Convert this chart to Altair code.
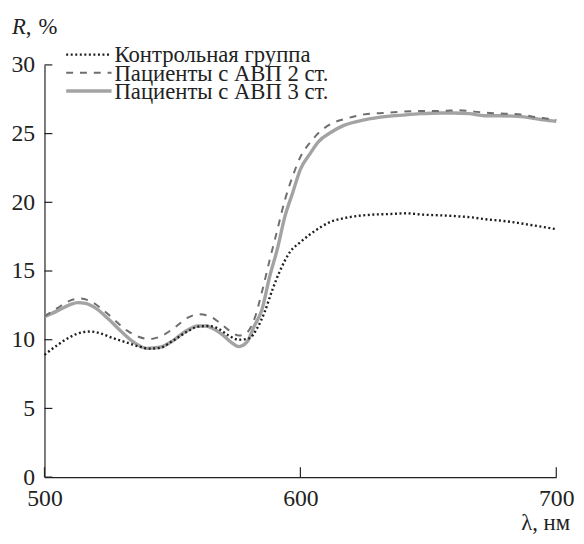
import altair as alt
import pandas as pd

# ---- data ----
series_names = ["Контрольная группа", "Пациенты с АВП 2 ст.", "Пациенты с АВП 3 ст."]

ctrl_nm = [500, 505, 510, 515, 518, 522, 527, 532, 537, 541, 545, 550, 555, 560, 564, 568, 572, 576, 580, 583,
           586, 589, 592, 596, 600, 604, 608, 612, 616, 620, 628, 635, 641, 648, 655, 660, 667, 673, 679, 685, 690, 695, 700]
ctrl_R = [8.9, 9.6, 10.2, 10.55, 10.6, 10.45, 10.1, 9.8, 9.5, 9.35, 9.4, 9.9, 10.5, 10.95, 11.0, 10.8, 10.3, 10.0, 10.1, 10.8,
          12.0, 13.6, 15.0, 16.4, 17.1, 17.7, 18.2, 18.6, 18.8, 18.95, 19.1, 19.15, 19.2, 19.1, 19.05, 19.0, 18.9, 18.75, 18.65, 18.5, 18.35, 18.2, 18.05]

st2_nm = [500, 505, 510, 514, 518, 522, 527, 532, 537, 541, 546, 551, 556, 560, 564, 568, 572, 576, 579, 582,
          585, 588, 591, 594, 597, 600, 604, 608, 613, 618, 625, 632, 640, 648, 655, 662, 668, 674, 680, 686, 692, 696, 700]
st2_R = [11.7, 12.3, 12.85, 13.0, 12.8, 12.3, 11.5, 10.7, 10.2, 10.05, 10.3, 10.9, 11.6, 11.85, 11.75, 11.3, 10.7, 10.3, 10.5, 11.5,
         13.5, 15.8, 18.0, 20.2, 21.9, 23.3, 24.4, 25.2, 25.8, 26.1, 26.4, 26.5, 26.6, 26.65, 26.65, 26.7, 26.6, 26.5, 26.45, 26.4, 26.2, 26.1, 26.0]

st3_nm = [500, 505, 510, 513, 516, 520, 525, 530, 535, 540, 545, 550, 555, 560, 563, 566, 570, 573, 576, 579,
          582, 585, 588, 591, 594, 597, 600, 604, 607, 612, 617, 625, 634, 640, 647, 654, 660, 666, 672, 678, 685, 690, 695, 700]
st3_R = [11.67, 12.1, 12.55, 12.7, 12.65, 12.3, 11.5, 10.6, 9.8, 9.37, 9.45, 9.9, 10.6, 11.0, 11.0, 10.8, 10.3, 9.8, 9.5, 9.8,
         11.0, 12.2, 14.6, 16.6, 19.0, 20.7, 22.4, 23.6, 24.4, 25.1, 25.6, 26.0, 26.25, 26.35, 26.45, 26.5, 26.5, 26.45, 26.3, 26.3, 26.25, 26.15, 26.0, 25.9]

x_ticks = [500, 600, 700]
y_ticks = [0, 5, 10, 15, 20, 25, 30]

# ---- styles ----
FONT = "Liberation Serif"
INK = "#222222"
W, H = 519, 418
styles = {
    series_names[0]: dict(color="#1e1e1e", strokeWidth=2.4, strokeDash=[2, 2.6]),
    series_names[1]: dict(color="#6e6e6e", strokeWidth=2.0, strokeDash=[7, 7]),
    series_names[2]: dict(color="#a3a3a3", strokeWidth=3.4),
}
data_by_name = {
    series_names[0]: pd.DataFrame({"nm": ctrl_nm, "R": ctrl_R}),
    series_names[1]: pd.DataFrame({"nm": st2_nm, "R": st2_R}),
    series_names[2]: pd.DataFrame({"nm": st3_nm, "R": st3_R}),
}

xscale = alt.Scale(domain=[500, 700], nice=False, zero=False)
yscale = alt.Scale(domain=[0, 30], nice=False)
xaxis = alt.Axis(values=x_ticks, ticks=False, grid=False, domainColor=INK, domainWidth=1.2,
                 labelFont=FONT, labelFontSize=24, labelColor=INK, labelPadding=10,
                 labelFlush=False, labelOverlap=False, title=None, format="d")
yaxis = alt.Axis(values=y_ticks, ticks=False, grid=False, domainColor=INK, domainWidth=1.2,
                 labelFont=FONT, labelFontSize=24, labelColor=INK, labelPadding=10,
                 labelOverlap=False, title=None, format="d")

layers = []
for name in [series_names[2], series_names[1], series_names[0]]:
    st = styles[name]
    kw = dict(color=st["color"], strokeWidth=st["strokeWidth"], interpolate="monotone")
    if "strokeDash" in st:
        kw["strokeDash"] = st["strokeDash"]
    layers.append(
        alt.Chart(data_by_name[name]).mark_line(**kw).encode(
            x=alt.X("nm:Q", scale=xscale, axis=xaxis),
            y=alt.Y("R:Q", scale=yscale, axis=yaxis),
        )
    )

# inward ticks
layers.append(
    alt.Chart(pd.DataFrame({"v": x_ticks})).mark_rule(color=INK, strokeWidth=1.2).encode(
        x=alt.X("v:Q", scale=xscale, axis=xaxis), y=alt.value(H), y2=alt.value(H - 10))
)
layers.append(
    alt.Chart(pd.DataFrame({"v": y_ticks})).mark_rule(color=INK, strokeWidth=1.2).encode(
        y=alt.Y("v:Q", scale=yscale, axis=yaxis), x=alt.value(0), x2=alt.value(8))
)

# legend (manual)
legend_rows = [-10.5, 8, 26.5]
for name, yy in zip(series_names, legend_rows):
    st = styles[name]
    kw = dict(color=st["color"], strokeWidth=st["strokeWidth"])
    if "strokeDash" in st:
        kw["strokeDash"] = st["strokeDash"]
    ldf = pd.DataFrame({"label": [name]})
    layers.append(alt.Chart(ldf).mark_rule(**kw).encode(x=alt.value(22), x2=alt.value(68), y=alt.value(yy)))
    layers.append(alt.Chart(ldf).mark_text(font=FONT, fontSize=23, color=INK, align="left", baseline="middle").encode(
        x=alt.value(71), y=alt.value(yy + 1), text="label:N"))

# axis titles
t = pd.DataFrame({"t": ["R", ",", "%", "λ, нм"]})
layers.append(alt.Chart(t).transform_filter(alt.datum.t == "R").mark_text(
    font=FONT, fontSize=23, fontStyle="italic", color=INK, align="left", baseline="alphabetic").encode(
    x=alt.value(-33), y=alt.value(-31), text="t:N"))
layers.append(alt.Chart(t).transform_filter(alt.datum.t == ",").mark_text(
    font=FONT, fontSize=23, color=INK, align="left", baseline="alphabetic").encode(
    x=alt.value(-19), y=alt.value(-31), text="t:N"))
layers.append(alt.Chart(t).transform_filter(alt.datum.t == "%").mark_text(
    font=FONT, fontSize=23, color=INK, align="left", baseline="alphabetic").encode(
    x=alt.value(-6), y=alt.value(-31), text="t:N"))
layers.append(alt.Chart(t).transform_filter(alt.datum.t == "λ, нм").mark_text(
    font=FONT, fontSize=23, color=INK, align="right", baseline="alphabetic").encode(
    x=alt.value(533), y=alt.value(472), text="t:N"))

chart = alt.layer(*layers).properties(
    width=W, height=H,
    autosize=alt.AutoSizeParams(type="none"),
    padding={"left": 37, "top": 54, "right": 20, "bottom": 56},
    view=alt.ViewBackground(stroke=None),
)

chart.save("out.html", embed_options={"renderer": "svg", "actions": False})
